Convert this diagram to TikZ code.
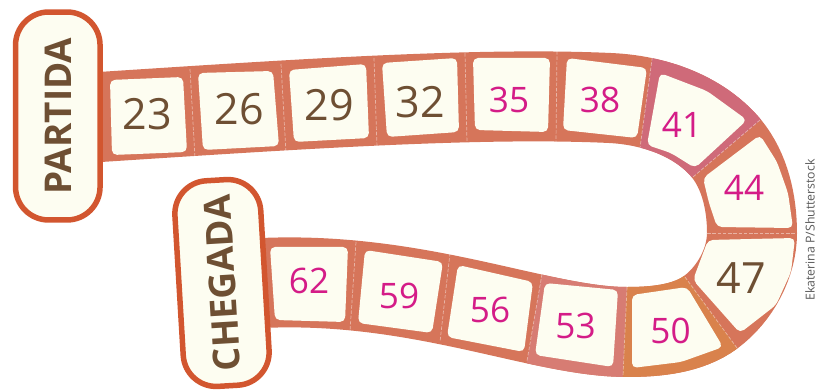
\documentclass[tikz,border=0pt]{standalone}
\usepackage{fontspec}
\setmainfont{Open Sans}
\usepackage{tikz}

\definecolor{bandc}{HTML}{D6755A}
\definecolor{pinkseg}{HTML}{CF6A79}
\definecolor{roseseg}{HTML}{D77C73}
\definecolor{orangeseg}{HTML}{D9824C}
\definecolor{cream}{HTML}{FDFDF1}
\definecolor{pillred}{HTML}{D2562F}
\definecolor{numbrown}{HTML}{6E4F33}
\definecolor{numpink}{HTML}{D41C87}
\definecolor{creditgray}{HTML}{5A5A5A}

% centre line of the track
\newcommand\trackpath{(100,117) .. controls (300,104) and (480,92) .. (610,98)
  .. controls (653,100) and (698,115) .. (726,148)
  .. controls (745,171) and (752,203) .. (752,233)
  .. controls (752,263) and (735,294) .. (711,312)
  .. controls (688,329) and (656,332) .. (627,332)
  .. controls (540,332) and (420,276) .. (262,283)}

\begin{document}
\begin{tikzpicture}[x=0.02cm, y=-0.02cm,
  track/.style={draw=bandc, line width=1.8cm},
  divider/.style={white, opacity=0.45, line width=0.4pt, dash pattern=on 2pt off 1pt},
  tile/.style={fill=cream, rounded corners=0.1cm},
  num/.style={font=\fontsize{20}{20}\selectfont, text=numpink, inner sep=0pt},
  bignum/.style={font=\fontsize{24.5}{24.5}\selectfont, text=numbrown, inner sep=0pt},
  pill/.style={draw=pillred, line width=0.11cm, fill=cream, rounded corners=0.66cm,
    font=\bfseries\fontsize{21}{21}\selectfont, text=numbrown, inner sep=0pt},
  credit/.style={font=\fontsize{7}{7}\selectfont, text=creditgray, inner sep=0pt},
]
\useasboundingbox (0,0) rectangle (815,391);

% track
\draw[track] \trackpath;
\begin{scope}
  \clip (656,30) -- (777,106) -- (676,191) -- (637,170) -- cycle;
  \draw[track, draw=pinkseg] \trackpath;
\end{scope}
\begin{scope}
  \clip (545,255) -- (628,265) -- (622,395) -- (524,380) -- cycle;
  \draw[track, draw=roseseg] \trackpath;
\end{scope}
\begin{scope}
  \clip (628,265) -- (667,252) -- (747,362) -- (622,395) -- cycle;
  \draw[track, draw=orangeseg] \trackpath;
\end{scope}

% dividers
\draw[divider] (190,69) -- (195,158);
\draw[divider] (281,64) -- (286,153);
\draw[divider] (374,58) -- (377,147);
\draw[divider] (465,53) -- (467,143);
\draw[divider] (557,51) -- (556,142);
\draw[divider] (653,52) -- (640,148);
\draw[divider] (760,120) -- (693,177);
\draw[divider] (707,233) -- (797,233);
\draw[divider] (685,277) -- (737,348);
\draw[divider] (627,287) -- (623,376);
\draw[divider] (542,274) -- (527,361);
\draw[divider] (450,253) -- (440,342);
\draw[divider] (356,242) -- (350,331);

% squares
\fill[tile] (110,80) -- (183,77) -- (187,152) -- (112,155) -- cycle;
\fill[tile] (198,73) -- (273,71) -- (279,146) -- (203,150) -- cycle;
\fill[tile] (289,70) -- (366,64) -- (369,138) -- (294,142) -- cycle;
\fill[tile] (382,63) -- (457,58) -- (459,132) -- (387,137) -- cycle;
\fill[tile] (473,58) -- (550,58) -- (548,132) -- (475,130) -- cycle;
\fill[tile] (567,58) -- (647,68) -- (637,138) -- (563,130) -- cycle;
\fill[tile] (660,73) -- (707,91) -- (747,120) -- (695,168) -- (671,153) -- (647,145) -- cycle;
\fill[tile] (703,178) -- (760,135) -- (777,162) -- (788,193) -- (793,228) -- (717,227) -- (709,203) -- cycle;
\fill[tile] (708,240) -- (795,238) -- (791,272) -- (776,305) -- (740,333) -- (693,280) -- cycle;
\fill[tile] (632,295) -- (687,287) -- (723,347) -- (681,362) -- (632,368) -- cycle;
\fill[tile] (545,283) -- (618,290) -- (613,367) -- (535,355) -- cycle;
\fill[tile] (458,265) -- (533,282) -- (524,352) -- (447,337) -- cycle;
\fill[tile] (365,250) -- (443,262) -- (432,333) -- (358,323) -- cycle;
\fill[tile] (270,247) -- (348,247) -- (345,322) -- (275,320) -- cycle;

% numbers
\node[bignum] (n23) at (147.5,114.5) {23};
\node[bignum] (n26) at (239.5,109) {26};
\node[bignum] (n29) at (329,105) {29};
\node[bignum] (n32) at (420,102) {32};
\node[num] (n35) at (509,99.5) {35};
\node[num] (n38) at (600,99.5) {38};
\node[num] (n41) at (682,125) {41};
\node[num] (n44) at (744,187.5) {44};
\node[bignum] (n47) at (741,278) {47};
\node[num] (n50) at (670.5,330.5) {50};
\node[num] (n53) at (575.5,325.5) {53};
\node[num] (n56) at (490,309.5) {56};
\node[num] (n59) at (399,295.5) {59};
\node[num] (n62) at (309,280.5) {62};

% start and finish
\node[pill, rotate=90, minimum width=4.16cm, minimum height=1.69cm] (partida) at (57.8,116) {PARTIDA};
\node[pill, rotate=93.4, minimum width=4.12cm, minimum height=1.72cm] (chegada) at (222,283) {CHEGADA};

\node[credit, rotate=90] (credit) at (810,230) {Ekaterina P/Shutterstock};
\end{tikzpicture}
\end{document}
